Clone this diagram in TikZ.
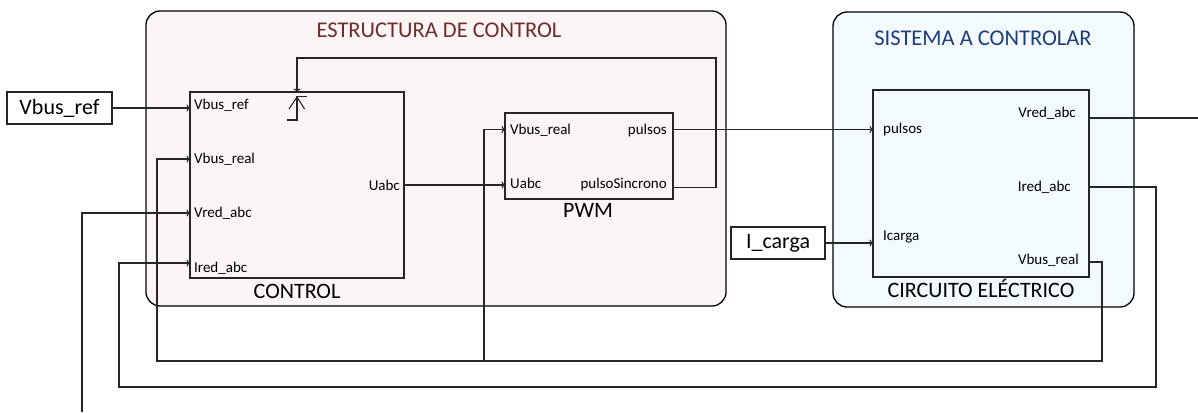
\documentclass[tikz,border=0pt]{standalone}
\usepackage{fontspec}
\setmainfont{Carlito}
\usepackage{xcolor}
\usetikzlibrary{arrows.meta}
\definecolor{ctrlfill}{HTML}{FBF5F5}
\definecolor{ctrltext}{HTML}{6E2C2C}
\definecolor{plantfill}{HTML}{F2FAFD}
\definecolor{planttext}{HTML}{1F3E7A}
\definecolor{wire}{HTML}{262626}

\begin{document}
\begin{tikzpicture}[
  x = 1pt, y = -1pt,
  frame/.style = {draw, line width = 1.3pt, rounded corners = 14pt, anchor = north west, inner sep = 0, outer sep = 0},
  block/.style = {draw = wire, line width = 1.1pt, anchor = north west, inner sep = 0, outer sep = 0},
  title/.style = {font = \fontsize{22.5}{26}\selectfont, anchor = base, inner sep = 0},
  bigname/.style = {font = \fontsize{22}{26}\selectfont, inner sep = 0},
  port/.style = {font = \fontsize{15}{18}\selectfont, inner sep = 0},
  wireline/.style = {draw = wire, line width = 1.1pt},
  sig/.style = {wireline, -{To[length = 3.5pt, width = 7pt]}}
  ]
  \useasboundingbox (0,0) rectangle (1198,412);
  % subsystems
  \node[frame, fill = ctrlfill, minimum width = 580pt, minimum height = 295pt] (estructura) at (146,11) {};
  \node[frame, fill = plantfill, minimum width = 301pt, minimum height = 295pt] (sistema) at (833,12) {};
  \node[title, text = ctrltext] (t-estructura) at (439,37.5) {ESTRUCTURA DE CONTROL};
  \node[title, text = planttext] (t-sistema) at (983,45.5) {SISTEMA A CONTROLAR};
  % blocks
  \node[block, minimum width = 214pt, minimum height = 186pt] (control) at (190,92) {};
  \node[block, minimum width = 168pt, minimum height = 86pt] (pwm) at (505,113) {};
  \node[block, minimum width = 216pt, minimum height = 187pt] (circuito) at (873,90) {};
  \node[block, bigname, minimum width = 105pt, minimum height = 32pt] (vbusref) at (7,92) {Vbus\_ref};
  \node[block, bigname, minimum width = 94pt, minimum height = 32pt] (icarga) at (731,227) {I\_carga};
  \node[bigname, anchor = base] (n-control) at (297,298.5) {CONTROL};
  \node[bigname, anchor = base] (n-pwm) at (588,217) {PWM};
  \node[bigname, anchor = base] (n-circuito) at (981,297.5) {CIRCUITO ELÉCTRICO};
  % port names
  \node[port, anchor = base west] (p-c-vref) at (194,109.5) {Vbus\_ref};
  \node[port, anchor = base west] (p-c-vbus) at (194,163) {Vbus\_real};
  \node[port, anchor = base west] (p-c-vred) at (194,217.5) {Vred\_abc};
  \node[port, anchor = base west] (p-c-ired) at (194,272.5) {Ired\_abc};
  \node[port, anchor = base east] (p-c-uabc) at (400,190.5) {Uabc};
  \node[port, anchor = base west] (p-p-vbus) at (510,134) {Vbus\_real};
  \node[port, anchor = base west] (p-p-uabc) at (510,188) {Uabc};
  \node[port, anchor = base east] (p-p-puls) at (667,134) {pulsos};
  \node[port, anchor = base east] (p-p-sync) at (667,188) {pulsoSincrono};
  \node[port, anchor = base west] (p-e-puls) at (883,133.5) {pulsos};
  \node[port, anchor = base west] (p-e-icar) at (883,240.5) {Icarga};
  \node[port, anchor = base east] (p-e-vred) at (1076,117.5) {Vred\_abc};
  \node[port, anchor = base east] (p-e-ired) at (1071,191.5) {Ired\_abc};
  \node[port, anchor = base east] (p-e-vbus) at (1079,264.5) {Vbus\_real};
  % enable mark on CONTROL
  \draw[wireline] (287,120) -- (297,120) -- (297,96.5) -- (307,96.5);
  \draw[wireline] (289,109) -- (297,97) -- (304.5,109);
  % wiring points
  \coordinate (pwm-puls) at (673,129.5);
  \coordinate (pwm-sync) at (673,187.5);
  \coordinate (pwm-vbus) at (505,129.5);
  \coordinate (fb) at (716,58);
  \coordinate (ce-vred) at (1089,118);
  \coordinate (ce-ired) at (1089,187);
  \coordinate (ce-vbus) at (1089,262);
  \coordinate (exit-r) at (1198,118);
  \coordinate (entry-l) at (82,412);
  \coordinate (c-vbus) at (190,159);
  \coordinate (c-vred) at (190,213);
  \coordinate (c-ired) at (190,263);
  \coordinate (ired-low) at (1156,387);
  \coordinate (ired-back) at (119,387);
  \coordinate (vbus-low) at (1102,361);
  \coordinate (vbus-back) at (157,361);
  \coordinate (vbus-tap) at (484,361);
  % connectors
  \draw[sig] (vbusref.east) -- (vbusref.east -| control.west);
  \draw[sig] (control.east) -- (control.east -| pwm.west);
  \draw[sig] (pwm-puls) -- (pwm-puls -| circuito.west);
  \draw[sig] (icarga.east) -- (icarga.east -| circuito.west);
  \draw[sig] (pwm-sync) -| (fb) -| (control.north);
  \draw[wireline] (ce-vred) -- (exit-r);
  \draw[sig] (entry-l) |- (c-vred);
  \draw[sig] (ce-ired) -| (ired-low) -- (ired-back) |- (c-ired);
  \draw[sig] (ce-vbus) -| (vbus-low) -- (vbus-back) |- (c-vbus);
  \draw[sig] (vbus-tap) |- (pwm-vbus);
\end{tikzpicture}
\end{document}
